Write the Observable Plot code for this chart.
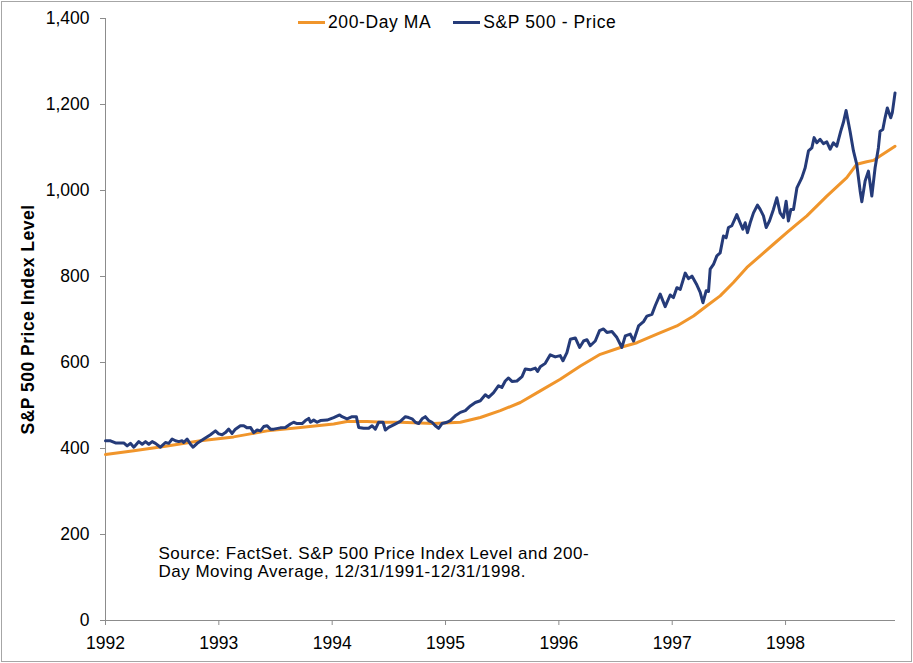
<!DOCTYPE html>
<html>
<head>
<meta charset="utf-8">
<script src="https://cdn.jsdelivr.net/npm/d3@7"></script>
<script src="https://cdn.jsdelivr.net/npm/@observablehq/plot@0.6"></script>
<style>
  html, body { margin: 0; padding: 0; background: #fff; }
  #wrap { position: relative; width: 913px; height: 663px; overflow: hidden; font-family: "Liberation Sans", Arial, sans-serif; }
  #frame { position: absolute; left: 1px; top: 1px; width: 911px; height: 661px; box-sizing: border-box; border: 1px solid #a6a6a6; pointer-events: none; }
  #chart { position: absolute; left: 0; top: 0; }
  #legend { position: absolute; left: 298px; top: 12px; display: flex; align-items: center; font-size: 17.5px; letter-spacing: 0.6px; color: #000; white-space: nowrap; }
  .item { display: flex; align-items: center; margin-right: 22px; }
  .sw { width: 27px; height: 3px; margin-right: 3px; }
</style>
</head>
<body>
<div id="wrap">
  <div id="chart"></div>
  <div id="legend"></div>
  <div id="frame"></div>
</div>
<script>
// ---- Data ----
const seriesNames = ["200-Day MA", "S&P 500 - Price"];
const seriesColors = ["#F0952B", "#253B79"];

// S&P 500 price: time in decimal years, level
const priceTime = [1992.000,1992.044,1992.088,1992.161,1992.191,1992.220,1992.250,1992.294,1992.324,1992.353,1992.382,1992.412,1992.441,1992.485,1992.529,1992.558,1992.588,1992.617,1992.646,1992.676,1992.690,1992.720,1992.750,1992.773,1992.809,1992.867,1992.926,1992.970,1992.999,1993.029,1993.058,1993.087,1993.117,1993.146,1993.190,1993.220,1993.250,1993.279,1993.308,1993.338,1993.367,1993.396,1993.426,1993.455,1993.484,1993.543,1993.587,1993.631,1993.660,1993.690,1993.735,1993.764,1993.793,1993.808,1993.837,1993.867,1993.896,1993.955,1994.013,1994.066,1994.087,1994.131,1994.176,1994.213,1994.234,1994.278,1994.322,1994.352,1994.381,1994.410,1994.449,1994.469,1994.498,1994.542,1994.601,1994.646,1994.675,1994.705,1994.734,1994.763,1994.793,1994.822,1994.851,1994.881,1994.910,1994.939,1994.969,1995.013,1995.042,1995.086,1995.131,1995.175,1995.219,1995.263,1995.307,1995.351,1995.380,1995.424,1995.468,1995.497,1995.527,1995.556,1995.586,1995.630,1995.675,1995.704,1995.748,1995.792,1995.812,1995.836,1995.880,1995.924,1995.968,1996.012,1996.036,1996.071,1996.101,1996.145,1996.183,1996.218,1996.248,1996.277,1996.321,1996.359,1996.394,1996.424,1996.468,1996.512,1996.556,1996.586,1996.630,1996.659,1996.703,1996.747,1996.777,1996.821,1996.850,1996.894,1996.938,1996.982,1997.011,1997.041,1997.071,1997.115,1997.144,1997.174,1997.218,1997.247,1997.271,1997.300,1997.320,1997.335,1997.364,1997.394,1997.423,1997.452,1997.476,1997.496,1997.526,1997.570,1997.599,1997.623,1997.644,1997.664,1997.688,1997.717,1997.752,1997.776,1997.805,1997.829,1997.858,1997.893,1997.923,1997.952,1997.981,1998.005,1998.025,1998.047,1998.070,1998.100,1998.144,1998.173,1998.202,1998.232,1998.252,1998.276,1998.305,1998.334,1998.364,1998.393,1998.422,1998.452,1998.487,1998.510,1998.534,1998.569,1998.599,1998.628,1998.658,1998.673,1998.702,1998.731,1998.761,1998.790,1998.819,1998.834,1998.858,1998.878,1998.898,1998.928,1998.942,1998.966];
const priceLevel = [418,418,413,413,406,412,403,416,410,416,410,416,412,403,414,412,422,418,416,418,414,422,410,403,412,422,432,441,434,432,437,445,435,445,453,453,448,449,437,443,441,451,453,445,445,448,449,457,461,458,458,465,470,461,466,461,465,466,472,478,474,469,474,474,449,447,447,453,445,461,461,443,449,455,463,474,472,469,461,458,469,474,465,461,453,447,458,461,465,476,484,488,499,507,511,525,519,530,546,542,557,564,556,557,567,585,583,587,579,590,598,618,613,616,604,623,654,657,635,650,653,639,650,674,678,670,672,658,635,662,666,650,685,695,708,712,732,759,730,757,751,774,770,808,795,801,780,763,739,767,765,817,828,848,855,894,890,914,918,944,925,910,925,902,925,948,966,956,941,914,929,956,983,948,937,975,929,956,956,1006,1030,1053,1092,1099,1123,1111,1119,1109,1113,1096,1111,1103,1138,1158,1186,1138,1092,1061,999,974,1022,1045,987,1053,1099,1138,1142,1169,1192,1169,1181,1227];

// 200-day moving average
const maTime = [1992.000,1992.250,1992.544,1992.838,1993.131,1993.279,1993.426,1993.720,1994.013,1994.131,1994.308,1994.454,1994.601,1994.895,1995.131,1995.307,1995.483,1995.660,1995.836,1996.012,1996.190,1996.365,1996.556,1996.689,1996.865,1997.041,1997.188,1997.306,1997.423,1997.540,1997.659,1997.776,1997.893,1998.011,1998.100,1998.188,1998.364,1998.540,1998.628,1998.716,1998.775,1998.834,1998.966];
const maLevel = [386,395,406,418,427,434,441,449,457,463,463,461,461,458,461,472,488,507,534,561,592,619,636,646,666,685,708,732,755,786,821,848,875,902,922,941,987,1030,1061,1067,1070,1080,1103];

const xTickYears = [1992,1993,1994,1995,1996,1997,1998];
const yTicks = [0,200,400,600,800,1000,1200,1400];
const yTitle = "S&P 500 Price Index Level";
const captionText = "Source: FactSet. S&P 500 Price Index Level and 200-\nDay Moving Average, 12/31/1991-12/31/1998.";

// ---- Build tables ----
const priceData = priceTime.map((t, i) => ({t, v: priceLevel[i]}));
const maData = maTime.map((t, i) => ({t, v: maLevel[i]}));
const axisGray = "#8c8c8c";

const chart = Plot.plot({
  width: 913,
  height: 663,
  marginLeft: 105,
  marginRight: 18,
  marginTop: 18,
  marginBottom: 43,
  style: {fontFamily: "'Liberation Sans', Arial, sans-serif", fontSize: "17.5px", color: "#000", background: "transparent"},
  x: {domain: [1992, 1998.97], label: null},
  y: {domain: [0, 1400], label: null},
  marks: [
    Plot.ruleY([0], {stroke: axisGray}),
    Plot.ruleX([xTickYears[0]], {stroke: axisGray}),
    Plot.axisX({ticks: xTickYears, tickFormat: d => String(d), tickSize: 5, tickPadding: 11, label: null}),
    Plot.axisY({ticks: yTicks, tickFormat: d3.format(","), tickSize: 5, tickPadding: 11, label: null}),
    Plot.line(maData, {x: "t", y: "v", stroke: seriesColors[0], strokeWidth: 3, strokeLinejoin: "round"}),
    Plot.line(priceData, {x: "t", y: "v", stroke: seriesColors[1], strokeWidth: 3, strokeLinejoin: "round"}),
    Plot.text([yTitle], {frameAnchor: "left", dx: -77, rotate: -90, textAnchor: "middle", text: d => d, fontWeight: "bold", fontSize: 17.5, fill: "#000"}),
    Plot.text([captionText], {frameAnchor: "top-left", dx: 53, dy: 543.5, text: d => d, textAnchor: "start", lineAnchor: "middle", lineHeight: 1.06, fontSize: 17, fill: "#000"})
  ]
});

// tick styling: gray tick marks, black labels
chart.querySelectorAll('g[aria-label="x-axis tick"], g[aria-label="y-axis tick"]').forEach(g => g.setAttribute("stroke", axisGray));
chart.querySelectorAll('g[aria-label="text"] text').forEach(t => t.style.letterSpacing = "0.5px");
document.getElementById("chart").appendChild(chart);

// legend
const legend = d3.select("#legend");
seriesNames.forEach((name, i) => {
  const item = legend.append("div").attr("class", "item");
  item.append("div").attr("class", "sw").style("background", seriesColors[i]);
  item.append("span").text(name);
});
</script>
</body>
</html>
